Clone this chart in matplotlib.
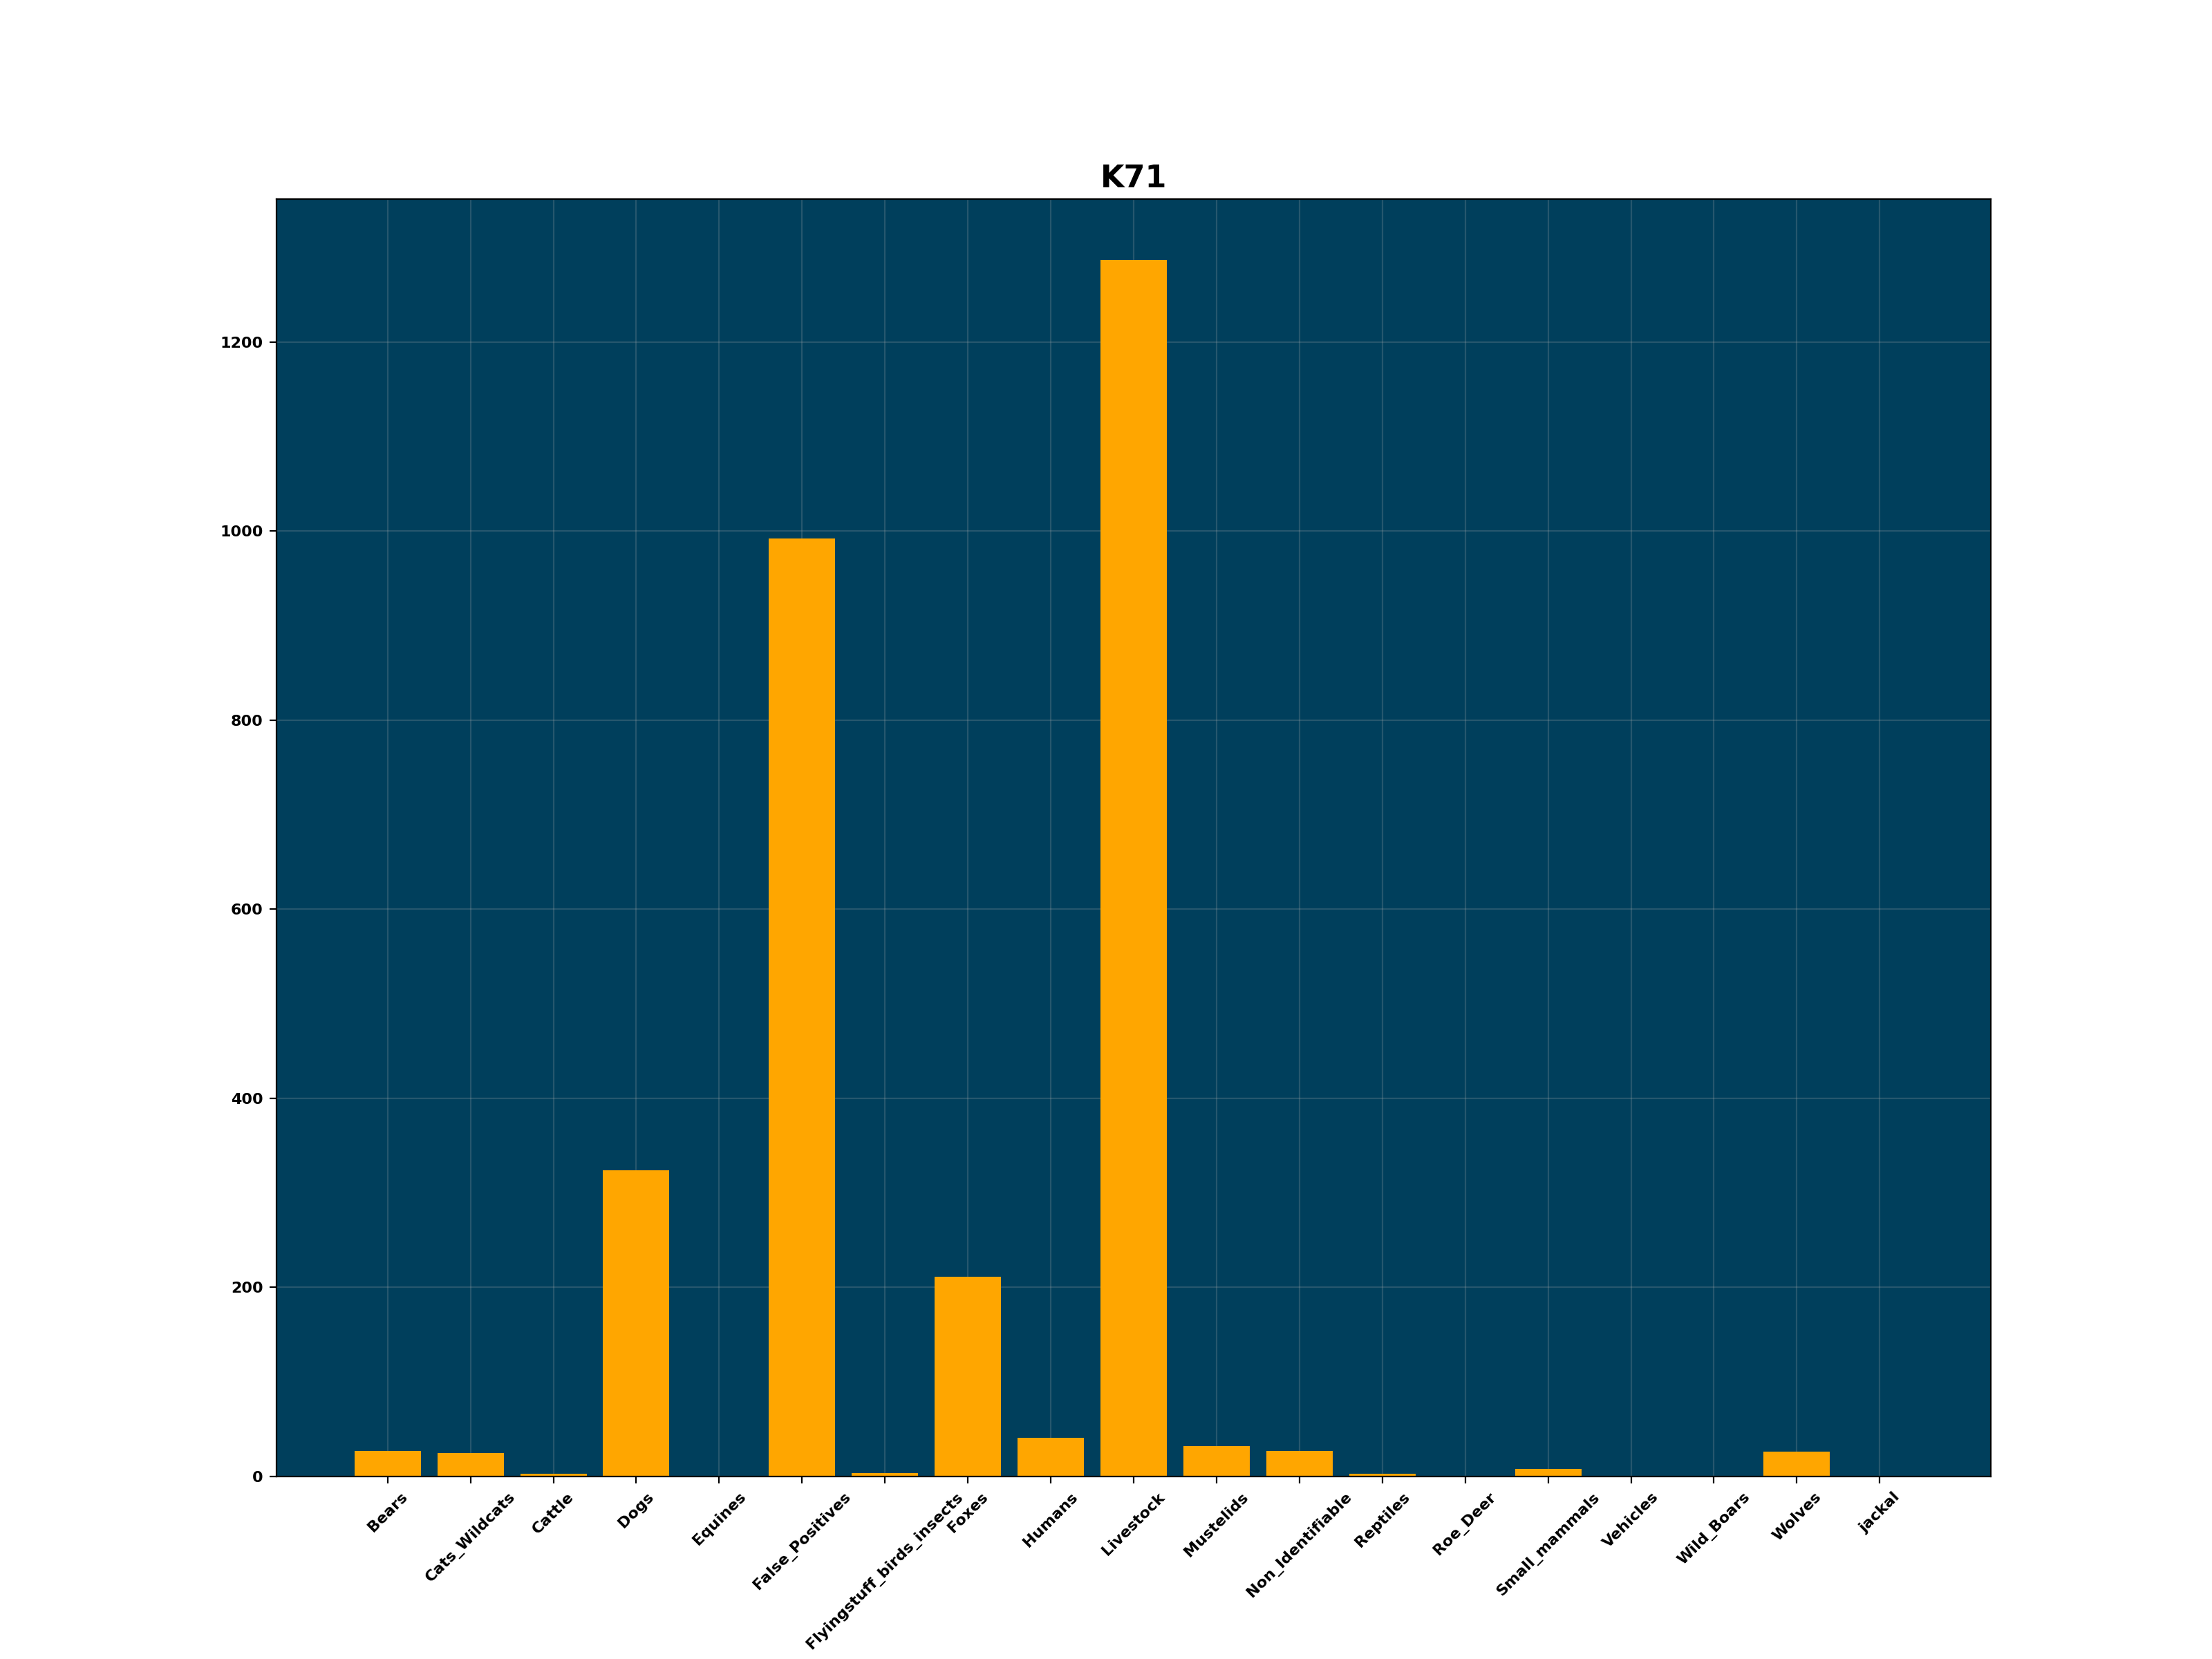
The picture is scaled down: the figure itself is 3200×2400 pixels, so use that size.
import matplotlib
matplotlib.use('Agg')
import matplotlib.pyplot as plt

# categorias e contagens
categorias = ['Bears', 'Cats_Wildcats', 'Cattle', 'Dogs', 'Equines', 'False_Positives',
              'Flyingstuff_birds_insects', 'Foxes', 'Humans', 'Livestock', 'Mustelids',
              'Non_Identifiable', 'Reptiles', 'Roe_Deer', 'Small_mammals', 'Vehicles',
              'Wild_Boars', 'Wolves', 'jackal']
contagens = [27, 25, 3, 324, 0, 992, 4, 211, 41, 1287, 32, 27, 3, 0, 8, 0, 0, 26, 0]
titulo = 'K71'

fig = plt.figure(figsize=(16, 12), dpi=200)
ax = fig.add_subplot(1, 1, 1)
ax.set_facecolor('#003f5c')
ax.set_axisbelow(True)
ax.grid(True, color='#b0b0b0', alpha=0.22, linewidth=0.8)
ax.bar(categorias, contagens, color='#ffa600', width=0.8)
ax.set_title(titulo, fontsize=16, fontweight='bold')
plt.xticks(rotation=45, fontsize=8, fontweight='bold')
plt.yticks(fontsize=8, fontweight='bold')
fig.savefig('out.png', dpi=200)
plt.close(fig)
